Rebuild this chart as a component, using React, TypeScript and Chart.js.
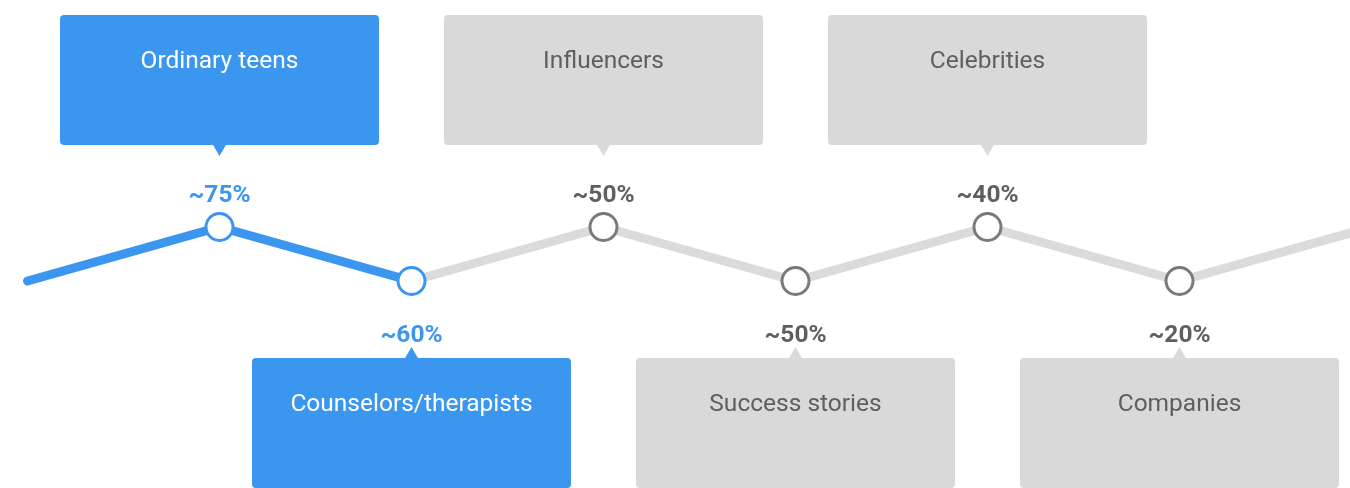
import React, { useEffect, useRef } from "react";
import { Chart, registerables } from "chart.js";

Chart.register(...registerables);

// Data
const categories = [
  "Ordinary teens",
  "Counselors/therapists",
  "Influencers",
  "Success stories",
  "Celebrities",
  "Companies",
];
const shares = [75, 60, 50, 50, 40, 20];
const highlighted = [true, true, false, false, false, false];
// zig-zag levels, including a lead-in point on the left and a lead-out point on the right
const levels = [0, 1, 0, 1, 0, 1, 0, 1];

const BLUE = "#3a96ee";
const GRAY_LINE = "#dbdbdb";
const GRAY_BOX = "#d9d9d9";
const GRAY_TEXT = "#5f5f5f";
const GRAY_POINT = "#7a7a7a";
const FONT = "Roboto, 'Noto Sans', sans-serif";

function roundRect(ctx: CanvasRenderingContext2D, x: number, y: number, w: number, h: number, r: number) {
  ctx.beginPath();
  ctx.moveTo(x + r, y);
  ctx.lineTo(x + w - r, y);
  ctx.quadraticCurveTo(x + w, y, x + w, y + r);
  ctx.lineTo(x + w, y + h - r);
  ctx.quadraticCurveTo(x + w, y + h, x + w - r, y + h);
  ctx.lineTo(x + r, y + h);
  ctx.quadraticCurveTo(x, y + h, x, y + h - r);
  ctx.lineTo(x, y + r);
  ctx.quadraticCurveTo(x, y, x + r, y);
  ctx.closePath();
}

const calloutPlugin = {
  id: "callouts",
  afterDatasetsDraw(chart: any) {
    const ctx: CanvasRenderingContext2D = chart.ctx;
    const meta = chart.getDatasetMeta(0);
    const boxW = 319;
    const boxH = 130;
    categories.forEach((name, i) => {
      const el = meta.data[i + 1];
      if (!el) return;
      const x = el.x;
      const y = el.y;
      const up = levels[i + 1] === 1;
      const fill = highlighted[i] ? BLUE : GRAY_BOX;
      const textCol = highlighted[i] ? "#ffffff" : GRAY_TEXT;
      const pctCol = highlighted[i] ? BLUE : GRAY_TEXT;
      ctx.save();
      const top = up ? y - 212 : y + 77;
      ctx.fillStyle = fill;
      roundRect(ctx, x - boxW / 2, top, boxW, boxH, 4);
      ctx.fill();
      // pointer
      ctx.beginPath();
      if (up) {
        const b = top + boxH;
        ctx.moveTo(x - 7, b - 1);
        ctx.lineTo(x + 7, b - 1);
        ctx.lineTo(x, b + 11);
      } else {
        ctx.moveTo(x - 7, top + 1);
        ctx.lineTo(x + 7, top + 1);
        ctx.lineTo(x, top - 11);
      }
      ctx.closePath();
      ctx.fill();
      // box label
      ctx.fillStyle = textCol;
      ctx.font = `400 24.5px ${FONT}`;
      ctx.textAlign = "center";
      ctx.textBaseline = "middle";
      ctx.fillText(name, x, top + 47);
      // percent label
      ctx.fillStyle = pctCol;
      ctx.font = `700 24.5px ${FONT}`;
      ctx.fillText(`~${shares[i]}%`, x, up ? y - 31 : y + 55);
      ctx.restore();
    });
  },
};

export default function App() {
  const ref = useRef<HTMLCanvasElement>(null);
  useEffect(() => {
    document.body.style.margin = "0";
    const canvas = ref.current!;
    const pts = levels.map((v, i) => ({ x: i, y: v }));
    const pointColors = levels.map((_, i) =>
      i >= 1 && i <= categories.length ? (highlighted[i - 1] ? BLUE : GRAY_POINT) : "transparent"
    );
    const radii = levels.map((_, i) => (i >= 1 && i <= categories.length ? 13.5 : 0));
    const chart = new Chart(canvas, {
      type: "line",
      data: {
        datasets: [
          {
            data: pts,
            borderWidth: 9,
            borderColor: GRAY_LINE,
            borderCapStyle: "round",
            borderJoinStyle: "round",
            tension: 0,
            pointRadius: radii,
            pointHoverRadius: radii,
            pointBackgroundColor: "#ffffff",
            pointBorderColor: pointColors,
            pointBorderWidth: 3,
            pointHoverBorderWidth: 3,
            clip: false as any,
            segment: {
              borderColor: (c: any) => {
                const idx = c.p1DataIndex;
                return idx <= 2 && highlighted[idx - 1] ? BLUE : GRAY_LINE;
              },
            },
          },
        ],
      },
      options: {
        responsive: false,
        animation: false,
        devicePixelRatio: 1,
        layout: { padding: 0 },
        plugins: { legend: { display: false }, tooltip: { enabled: false } },
        events: [],
        scales: {
          x: { type: "linear", display: false, min: -27.5 / 192, max: (1350 - 27.5) / 192 },
          y: { type: "linear", display: false, min: -207 / 54, max: -207 / 54 + 488 / 54 },
        },
      },
      plugins: [calloutPlugin],
    });
    return () => chart.destroy();
  }, []);
  return <canvas ref={ref} width={1350} height={488} style={{ display: "block" }} />;
}
